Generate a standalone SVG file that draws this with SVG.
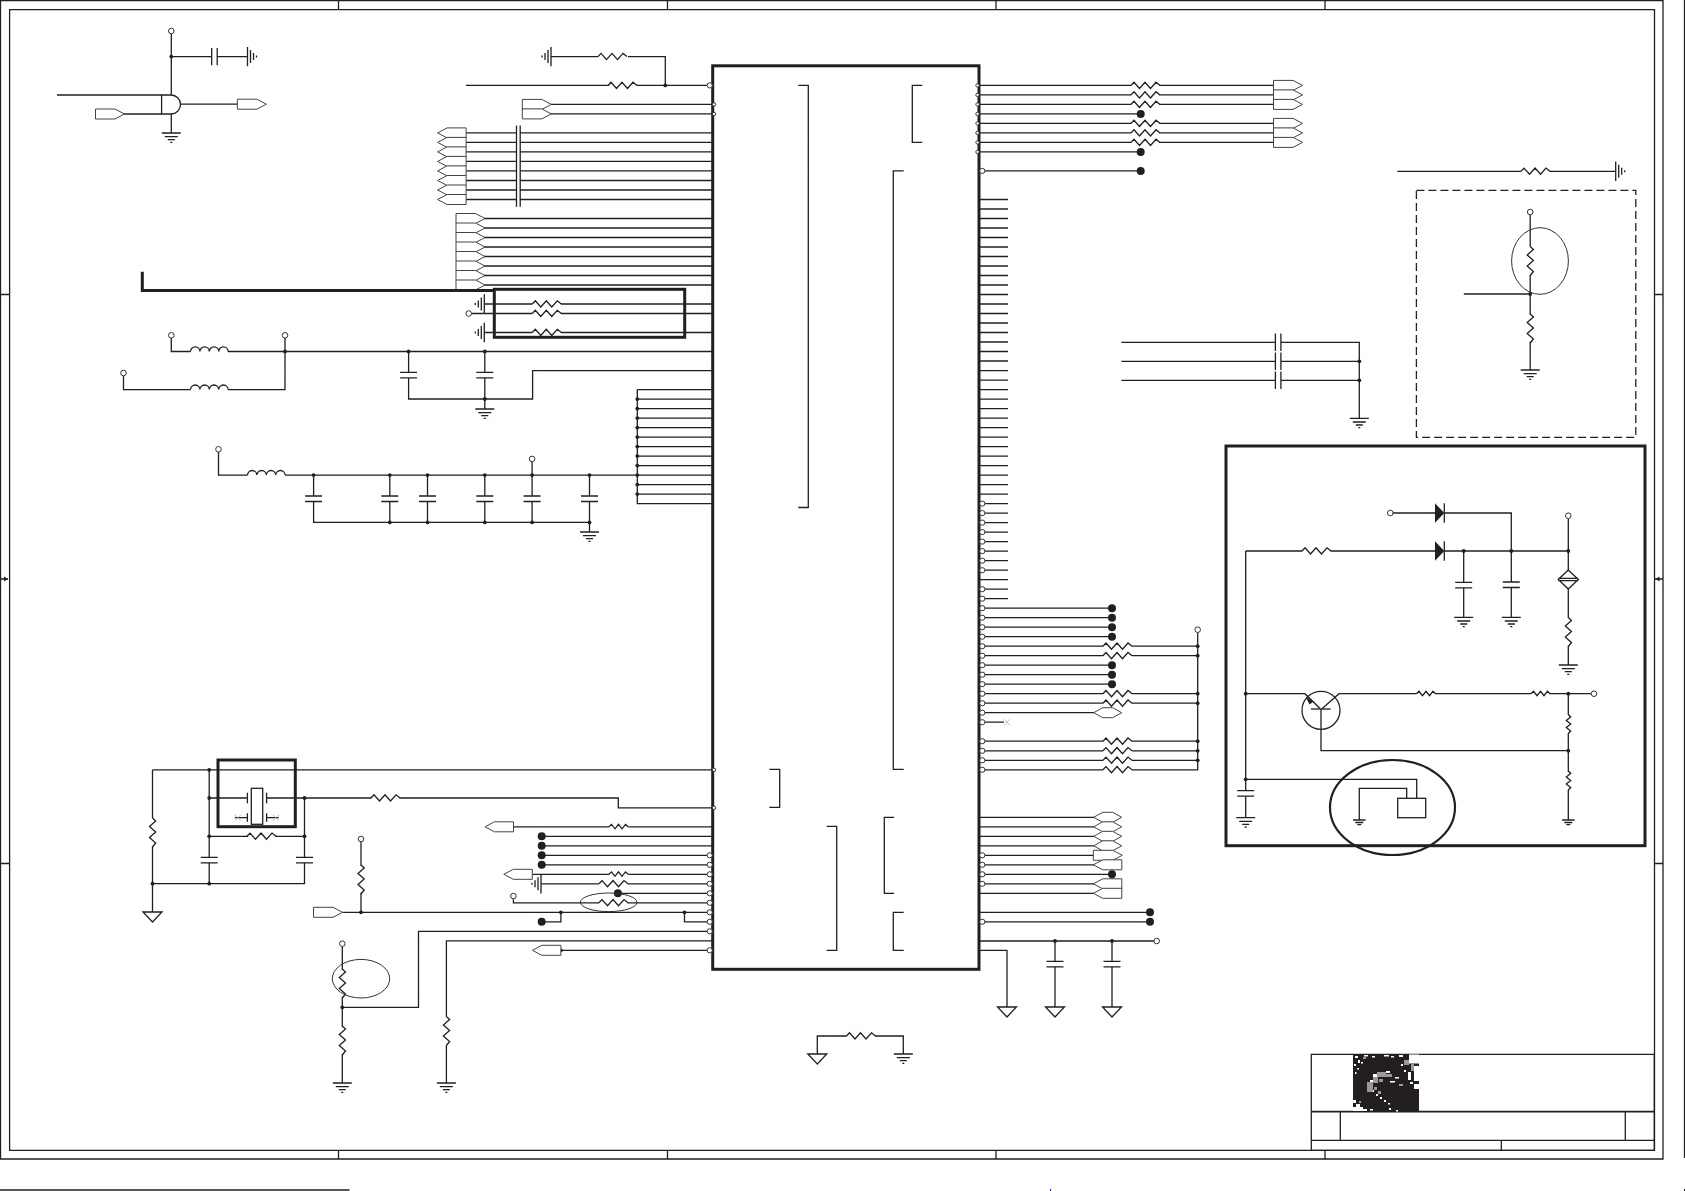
<svg xmlns="http://www.w3.org/2000/svg" width="1685" height="1191" viewBox="0 0 1685 1191">
<style>
.w{fill:none;stroke:#231f20;stroke-width:1.3}
.t{fill:none;stroke:#231f20;stroke-width:3}
.e{fill:none;stroke:#333;stroke-width:1}
.x{fill:none;stroke:#aaa;stroke-width:.8}
.f{fill:#fff;stroke:#444;stroke-width:1}
.o{fill:#fff;stroke:#333;stroke-width:1}
.k{fill:#231f20}
</style>
<defs>
<path id="r" class="w" d="M0 0L3-3.2 8.5 3 14-3.2 19.5 3 25-3.2 29 0"/>
<path id="rs" class="w" d="M0 0L2.5-2.4 6 2 9.5-2.4 13 2 16.5-2.4 19 0"/>
<path id="g" class="w" d="M-9.5 0H9.5M-6.5 3.7H6.5M-3.5 6.7H3.5M-1 9.3H1"/>
<path id="gs" class="w" d="M-6.3 0H6.3M-4 2.5H4M-2 4.7H2"/>
<path id="gr" class="w" d="M0-9.7V9.7M3-6.5V6.5M6-3.5V3.5M9-1V1"/>
<path id="gl" class="w" d="M0-9.7V9.7M-3-6.5V6.5M-6-3.5V3.5M-9-1V1"/>
<path id="tg" class="w" d="M-9.5 0H9.5L0 10Z"/>
<path id="c" class="w" d="M0 0a4.7 4.6 0 0 1 9.4 0a4.7 4.6 0 0 1 9.4 0a4.7 4.6 0 0 1 9.4 0a4.7 4.6 0 0 1 9.4 0"/>
<path id="cv" class="w" d="M-8.5 0H8.5M-8.5 5.5H8.5"/>
<path id="ch" class="w" d="M0-8.7V8.7M5.5-8.7V8.7"/>
<circle id="o" class="o" r="2.8"/>
<circle id="p" class="o" r="2.6"/>
<circle id="q" class="o" r="1.7"/>
<circle id="d" class="k" r="1.9"/>
<circle id="D" class="k" r="4"/>
<path id="fr" class="f" d="M0-5H19.5L29 0 19.5 5H0Z"/>
<path id="fl" class="f" d="M0 0L9.5-5H28.5V5H9.5Z"/>
<path id="hx" class="f" d="M0 0L9-5H19L28 0 19 5H9Z"/>
</defs>
<rect width="1685" height="1191" fill="#fff"/>
<g id="frame">
<path class="w" d="M0.5 0.5H1663V1159H0.5ZM9.6 9.6H1654.5V1150.3H9.6ZM338.5 .5V9.6M667.5 .5V9.6M996 .5V9.6M1325 .5V9.6M338.5 1150.3V1159M667.5 1150.3V1159M996 1150.3V1159M1325 1150.3V1159M.5 294.5H9.6M.5 863.5H9.6M1654.5 294.5H1663M1654.5 863.5H1663M.5 579H8M1655 579H1663M1684.5 0V1158"/>
<path class="k" d="M8 579L4 576.5V581.5ZM1655.5 579L1659.5 576.5V581.5Z"/>
<path class="w" style="stroke-width:1.5" d="M0 1190H349.5"/>
<rect x="1050" y="1189" width="1" height="2" fill="#1a1ae0"/>
<rect x="1684" y="1189" width="1" height="2" class="k"/>
</g>
<g id="title-block">
<path class="w" d="M1311.3 1054.3H1654.3V1150.3H1311.3ZM1340.3 1111.7V1140.3M1625.3 1111.7V1140.3M1311.3 1140.3H1654.3M1501.3 1140.3V1150.3"/>
<path class="w" style="stroke-width:1.7" d="M1311.3 1111.7H1654.3"/>
<g id="logo">
<rect x="1353" y="1054.5" width="66" height="57" class="k"/>
<path fill="#fff" d="M1355 1056h3v2h-3zM1358 1060h2v3h-2zM1364 1055h4v1.5h-4zM1372 1056h3v1.5h-3zM1384 1055h5v1.5h-5zM1391 1056h3v1.5h-3zM1399 1055h4v2h-4zM1354 1064h2v2h-2zM1357 1068h2v1.5h-2zM1361 1062h2v1.5h-2zM1355 1072h1.5v2h-1.5zM1409 1054.5h10v9h-10zM1414 1066h5v15h-5zM1408 1072h3v8h-3zM1414 1084h5v5h-5zM1410 1082h3v2h-3zM1401 1064h2v2h-2zM1404 1070h2v2h-2zM1373 1074h4v3h-4zM1370 1080h3v4h-3zM1386 1071h4v2h-4zM1395 1077h4v1.5h-4zM1390 1081h5v1.5h-5zM1372 1090h2v2h-2zM1376 1094h2v2h-2zM1380 1097h2v2h-2zM1384 1100h2v2h-2zM1388 1103h2v1.5h-2zM1353 1100h3v3h-3zM1356 1104h4v3h-4zM1353 1107h10v4h-10zM1362 1109h5v2h-5zM1370 1109h3v1.5h-3zM1389 1108h2v2h-2zM1396 1110h2v1.5h-2z"/>
<path fill="#999" d="M1367 1082h6v10h-6zM1373 1077h5v6h-5zM1377 1072h9v5h-9zM1386 1074h6v3h-6zM1404 1060h5v5h-5zM1411 1064h3v7h-3zM1379 1079h4v3h-4zM1399 1084h4v2h-4zM1363 1057h3v2h-3zM1359 1101h2v2h-2zM1374 1087h3v3h-3zM1378 1091h3v3h-3z"/>
</g>
</g>
<g id="U1">
<rect class="t" x="712.7" y="65.8" width="266.3" height="903.5" style="fill:#fff"/>
<path class="w" d="M798.3 85.4H808.3V507.5H798.3M922.3 85.4H912.3V142.4H922.3M903.7 170.9H893.3V769.3H903.7M769.3 769.3H779.7V807.3H769.3M826.7 826.3H836.7V950.3H826.7M894 817.3H884.3V893.3H894M903.7 912.3H893.3V950.3H903.7"/>
</g>
<g id="connectors">
<path class="w" d="M171.3 33.8V95M171.3 114V133M171.3 56.6H211.7M217.2 56.6H247.5M57 95H161.6M124 114H161.6M180.4 104.2H237.4
M551 56.6H598M628 56.6H665.3V85.4M466 85.4H609.3M636.8 85.4H707M551 104.4H713M551 113.9H713
M466 132.9H516.5M520.2 132.9H712.7M466 142.4H516.5M520.2 142.4H712.7M466 151.9H516.5M520.2 151.9H712.7M466 161.4H516.5M520.2 161.4H712.7M466 170.9H516.5M520.2 170.9H712.7M466 180.5H516.5M520.2 180.5H712.7M466 190H516.5M520.2 190H712.7M466 199.5H516.5M520.2 199.5H712.7
M516.5 125.5V206.7M520.2 125.5V206.7
M484 218.5H712.7M484 228H712.7M484 237.5H712.7M484 247H712.7M484 256.5H712.7M484 266H712.7M484 275.5H712.7M484 285H712.7
M484.3 304H532.3M561 304H712.7M471.5 313.5H532.3M561 313.5H712.7M484.3 332.5H532.3M561 332.5H712.7
M228 351.5H712.7M171.3 338V351.5H190.5M123.5 375.8V389.6H190.5M228 389.6H285V338
M408.6 351.5V372.4M408.6 378V399H532.6V370.6H712.7M484.8 351.5V372.4M484.8 378V409
M637.3 389.6V503.6H712.7M637.3 389.6H712.7M637.3 399.1H712.7M637.3 408.6H712.7M637.3 418.1H712.7M637.3 427.6H712.7M637.3 437.1H712.7M637.3 446.6H712.7M637.3 456.1H712.7M637.3 465.6H712.7M637.3 475.1H712.7M637.3 484.6H712.7M637.3 494.1H712.7
M218.5 452V475.1H247.5M285.1 475.1H637.3M532.1 461.7V475.1
M313.6 475.1V496M313.6 501.5V522.4H589.5V532M389.8 475.1V496M389.8 501.5V522.4M427.5 475.1V496M427.5 501.5V522.4M484.8 475.1V496M484.8 501.5V522.4M532.1 475.1V496M532.1 501.5V522.4M589.5 475.1V496M589.5 501.5V522.4
M152.5 769.8H712M152.5 769.8V818M152.5 846V912M209.2 769.8V857.3M209.2 862.8V883.7M152.5 883.7H304.5V862.8M304.5 857.3V798
M209.2 798H247.4M266.6 798H371.4M399.4 798H618.3V807.8H712M209.2 836.3H248.2M275 836.3H304.5
M513.4 826.8H609M628.2 826.8H712.7M541.7 836.3H712.7M541.7 845.8H712.7M541.7 855.3H708M541.7 864.8H708M532.5 874.3H609M628.2 874.3H708M541 883.8H599M627.5 883.8H708M617.9 893.3H708M513.4 899V902.8H599M627.5 902.8H708M342.7 912.3H708M560.9 912.3V921.8H541.7M684.5 912.3V921.8H708M708 931.3H418.5V1007.3H342.3M712.7 940.8H446.4V1016.7M446.4 1045.3V1083M560.9 950.3H708
M342.3 946.5V970M342.3 996.7V1027.3M342.3 1054V1083M361 841.8V866M361 892.7V912.3
M817.3 1054V1036H846.7M875 1036H903.3V1054
M980 85.4H1131.3M1159.3 85.4H1273.5M980 94.9H1131.3M1159.3 94.9H1273.5M980 104.4H1131.3M1159.3 104.4H1273.5M980 113.9H1140.7M980 123.4H1131.3M1159.3 123.4H1273.5M980 132.9H1131.3M1159.3 132.9H1273.5M980 142.4H1131.3M1159.3 142.4H1273.5M980 151.9H1140.7M985 170.9H1140.7
M980 199.5H1008M980 209H1008M980 218.5H1008M980 228H1008M980 237.5H1008M980 247H1008M980 256.5H1008M980 266H1008M980 275.5H1008M980 285H1008M980 294.5H1008M980 304H1008M980 313.5H1008M980 323H1008M980 332.5H1008M980 342H1008M980 351.5H1008M980 361H1008M980 370.6H1008M980 380.1H1008M980 389.6H1008M980 399.1H1008M980 408.6H1008M980 418.1H1008M980 427.6H1008M980 437.1H1008M980 446.6H1008M980 456.1H1008M980 465.6H1008M980 475.1H1008M980 484.6H1008M980 494.1H1008M980 503.6H1008M980 513.1H1008M980 522.6H1008M980 532.1H1008M980 541.6H1008M980 551.1H1008M980 560.7H1008M980 570.2H1008M980 579.7H1008M980 589.2H1008M980 598.7H1008
M980 608.2H1112M980 617.7H1112M980 627.2H1112M980 636.7H1112M980 646.2H1103M1132 646.2H1197.7M980 655.7H1103M1132 655.7H1197.7M980 665.2H1112M980 674.7H1112M980 684.2H1112M980 693.7H1103M1132 693.7H1197.7M980 703.2H1103M1132 703.2H1197.7M980 712.7H1094M980 722.2H1004M980 741.2H1103M1132 741.2H1197.7M980 750.8H1103M1132 750.8H1197.7M980 760.3H1103M1132 760.3H1197.7M980 769.8H1103M1132 769.8H1197.7V632.5
M980 817.3H1094M980 826.8H1094M980 836.3H1094M980 845.8H1094M980 855.3H1094M980 864.8H1094M980 874.3H1112M980 883.8H1094M980 893.3H1094M980 912.3H1150M980 921.8H1150M980 941H1154M980 950.3H1007V1007M1055 941V961.3M1055 966.8V1007M1112 941V961.3M1112 966.8V1007
M1397.4 171.3H1520.9M1549.6 171.3H1615.7M1530.2 215V246.7M1530.2 275V315M1530.2 341.7V370M1463.8 294H1530.2
M1121.3 342.3H1275.4M1281 342.3H1359.3V418.3M1121.3 361.3H1275.4M1281 361.3H1359.3M1121.3 380.3H1275.4M1281 380.3H1359.3
M1393 513H1435M1444.3 513H1511.3V551M1245.7 551H1302.3M1330.7 551H1435M1444.3 551H1568.3M1245.7 551V790.7M1245.7 796.3V817.7M1463.7 551V582.3M1463.7 587.8V617.3M1511.3 551V582M1511.3 587.5V617.3
M1568.3 518.5V570M1568.3 589V618M1568.3 646V665M1245.7 693.7H1305L1320 708.5M1321.7 709L1339 693.7H1416.7M1435 693.7H1531M1549.3 693.7H1591.2M1321 709V750.7H1568.3M1568.3 693.7V715M1568.3 733V771.7M1568.3 789.7V820
M1245.7 779.3H1416.7V798.3M1406.7 798.3V788.3H1359.3V820"/>
<use href="#d" x="171.3" y="56.6"/><use href="#d" x="665.3" y="85.4"/>
<use href="#d" x="285" y="351.5"/><use href="#d" x="408.6" y="351.5"/><use href="#d" x="484.8" y="351.5"/><use href="#d" x="484.8" y="399"/>
<use href="#d" x="637.3" y="399.1"/><use href="#d" x="637.3" y="408.6"/><use href="#d" x="637.3" y="418.1"/><use href="#d" x="637.3" y="427.6"/><use href="#d" x="637.3" y="437.1"/><use href="#d" x="637.3" y="446.6"/><use href="#d" x="637.3" y="456.1"/><use href="#d" x="637.3" y="465.6"/><use href="#d" x="637.3" y="475.1"/><use href="#d" x="637.3" y="484.6"/><use href="#d" x="637.3" y="494.1"/>
<use href="#d" x="313.6" y="475.1"/><use href="#d" x="389.8" y="475.1"/><use href="#d" x="427.5" y="475.1"/><use href="#d" x="484.8" y="475.1"/><use href="#d" x="532.1" y="475.1"/><use href="#d" x="589.5" y="475.1"/>
<use href="#d" x="389.8" y="522.4"/><use href="#d" x="427.5" y="522.4"/><use href="#d" x="484.8" y="522.4"/><use href="#d" x="532.1" y="522.4"/><use href="#d" x="589.5" y="522.4"/>
<use href="#d" x="209.2" y="769.8"/><use href="#d" x="209.2" y="798"/><use href="#d" x="209.2" y="836.3"/><use href="#d" x="209.2" y="883.7"/><use href="#d" x="152.5" y="883.7"/><use href="#d" x="304.5" y="798"/><use href="#d" x="304.5" y="836.3"/>
<use href="#d" x="361" y="912.3"/><use href="#d" x="560.9" y="912.3"/><use href="#d" x="684.5" y="912.3"/><use href="#d" x="560.9" y="950.3"/><use href="#d" x="342.3" y="1007.3"/>
<use href="#d" x="1197.7" y="646.2"/><use href="#d" x="1197.7" y="655.7"/><use href="#d" x="1197.7" y="693.7"/><use href="#d" x="1197.7" y="703.2"/><use href="#d" x="1197.7" y="741.2"/><use href="#d" x="1197.7" y="750.8"/><use href="#d" x="1197.7" y="760.3"/>
<use href="#d" x="1055" y="941"/><use href="#d" x="1112" y="941"/>
<use href="#d" x="1530.2" y="294"/><use href="#d" x="1359.3" y="361.3"/><use href="#d" x="1359.3" y="380.3"/>
<use href="#d" x="1463.7" y="551"/><use href="#d" x="1511.3" y="551"/><use href="#d" x="1568.3" y="551"/><use href="#d" x="1245.7" y="693.7"/><use href="#d" x="1245.7" y="779.3"/><use href="#d" x="1568.3" y="693.7"/><use href="#d" x="1568.3" y="750.7"/>
</g>
<g id="pins">
<use href="#p" x="709.7" y="85.4"/><use href="#q" x="714" y="104.4"/><use href="#q" x="714" y="113.9"/><use href="#q" x="714" y="769.8"/><use href="#q" x="714" y="807.8"/>
<use href="#p" x="709.7" y="855.3"/><use href="#p" x="709.7" y="864.8"/><use href="#p" x="709.7" y="874.3"/><use href="#p" x="709.7" y="883.8"/><use href="#p" x="709.7" y="893.3"/><use href="#p" x="709.7" y="902.8"/><use href="#p" x="709.7" y="912.3"/><use href="#p" x="709.7" y="921.8"/><use href="#p" x="709.7" y="931.3"/><use href="#p" x="709.7" y="950.3"/>
<use href="#q" x="977.5" y="85.4"/><use href="#q" x="977.5" y="94.9"/><use href="#q" x="977.5" y="104.4"/><use href="#q" x="977.5" y="113.9"/><use href="#q" x="977.5" y="123.4"/><use href="#q" x="977.5" y="132.9"/><use href="#q" x="977.5" y="142.4"/><use href="#q" x="977.5" y="151.9"/>
<use href="#p" x="982.3" y="170.9"/>
<use href="#p" x="982.3" y="503.6"/><use href="#p" x="982.3" y="513.1"/><use href="#p" x="982.3" y="522.6"/><use href="#p" x="982.3" y="532.1"/><use href="#p" x="982.3" y="541.6"/><use href="#p" x="982.3" y="551.1"/><use href="#p" x="982.3" y="560.7"/><use href="#p" x="982.3" y="570.2"/><use href="#p" x="982.3" y="589.2"/><use href="#p" x="982.3" y="598.7"/>
<use href="#p" x="982.3" y="608.2"/><use href="#p" x="982.3" y="617.7"/><use href="#p" x="982.3" y="627.2"/><use href="#p" x="982.3" y="636.7"/><use href="#p" x="982.3" y="646.2"/><use href="#p" x="982.3" y="655.7"/><use href="#p" x="982.3" y="665.2"/><use href="#p" x="982.3" y="674.7"/><use href="#p" x="982.3" y="684.2"/><use href="#p" x="982.3" y="693.7"/><use href="#p" x="982.3" y="703.2"/><use href="#p" x="982.3" y="712.7"/><use href="#p" x="982.3" y="722.2"/><use href="#p" x="982.3" y="741.2"/><use href="#p" x="982.3" y="750.8"/><use href="#p" x="982.3" y="760.3"/><use href="#p" x="982.3" y="769.8"/>
<use href="#p" x="982.3" y="855.3"/><use href="#p" x="982.3" y="864.8"/><use href="#p" x="982.3" y="874.3"/><use href="#p" x="982.3" y="883.8"/><use href="#p" x="982.3" y="921.8"/>
</g>
<g id="terminals">
<use href="#o" x="171.3" y="31"/><use href="#o" x="285" y="335.3"/><use href="#o" x="171.3" y="335.3"/><use href="#o" x="123.5" y="373"/><use href="#o" x="218.5" y="449.3"/><use href="#o" x="532.1" y="458.9"/><use href="#o" x="468.7" y="313.5"/>
<use href="#o" x="361" y="839"/><use href="#o" x="342.3" y="943.7"/><use href="#o" x="513.4" y="896"/>
<use href="#o" x="1197.7" y="629.7"/><use href="#o" x="1156.7" y="941"/><use href="#o" x="1530.2" y="212"/><use href="#o" x="1390.3" y="513"/><use href="#o" x="1568.3" y="515.7"/><use href="#o" x="1594" y="693.7"/>
</g>
<g id="resistors">
<use href="#r" x="598" y="56.6"/><use href="#r" x="608" y="85.4"/><use href="#r" x="532.3" y="304"/><use href="#r" x="532.3" y="313.5"/><use href="#r" x="532.3" y="332.5"/>
<use href="#r" x="371" y="798"/><use href="#r" x="247" y="836.3"/><use href="#r" x="599" y="883.8"/><use href="#r" x="599" y="902.8"/><use href="#rs" x="609" y="826.8"/><use href="#rs" x="609" y="874.3"/>
<use href="#r" transform="translate(152.5 818) rotate(90)"/><use href="#r" transform="translate(361 865) rotate(90)"/><use href="#r" transform="translate(342.3 969) rotate(90)"/><use href="#r" transform="translate(342.3 1026) rotate(90)"/><use href="#r" transform="translate(446.4 1016.5) rotate(90)"/>
<use href="#r" x="846.5" y="1036"/>
<use href="#r" x="1131" y="85.4"/><use href="#r" x="1131" y="94.9"/><use href="#r" x="1131" y="104.4"/><use href="#r" x="1131" y="123.4"/><use href="#r" x="1131" y="132.9"/><use href="#r" x="1131" y="142.4"/>
<use href="#r" x="1103" y="646.2"/><use href="#r" x="1103" y="655.7"/><use href="#r" x="1103" y="693.7"/><use href="#r" x="1103" y="703.2"/><use href="#r" x="1103" y="741.2"/><use href="#r" x="1103" y="750.8"/><use href="#r" x="1103" y="760.3"/><use href="#r" x="1103" y="769.8"/>
<use href="#r" x="1521" y="171.3"/><use href="#r" transform="translate(1530.2 246.5) rotate(90)"/><use href="#r" transform="translate(1530.2 314) rotate(90)"/>
<use href="#r" x="1302" y="551"/><use href="#r" transform="translate(1568.3 617.5) rotate(90)"/><use href="#rs" x="1416.5" y="693.7"/><use href="#rs" x="1531" y="693.7"/><use href="#rs" transform="translate(1568.3 714.5) rotate(90)"/><use href="#rs" transform="translate(1568.3 771) rotate(90)"/>
</g>
<g id="inductors">
<use href="#c" x="190.5" y="351.5"/><use href="#c" x="190.5" y="389.6"/><use href="#c" x="247.5" y="475.1"/>
</g>
<g id="capacitors">
<use href="#ch" x="211.7" y="56.6"/><use href="#cv" x="408.6" y="372.4"/><use href="#cv" x="484.8" y="372.4"/>
<use href="#cv" x="313.6" y="496"/><use href="#cv" x="389.8" y="496"/><use href="#cv" x="427.5" y="496"/><use href="#cv" x="484.8" y="496"/><use href="#cv" x="532.1" y="496"/><use href="#cv" x="589.5" y="496"/>
<use href="#cv" x="209.2" y="857.3"/><use href="#cv" x="304.5" y="857.3"/><use href="#cv" x="1055" y="961.3"/><use href="#cv" x="1112" y="961.3"/>
<use href="#ch" x="1275.4" y="342.3"/><use href="#ch" x="1275.4" y="361.3"/><use href="#ch" x="1275.4" y="380.3"/>
<use href="#cv" x="1463.7" y="582.3"/><use href="#cv" x="1511.3" y="582"/><use href="#cv" x="1245.7" y="790.7"/>
</g>
<g id="grounds">
<use href="#g" x="171.3" y="133"/><use href="#g" x="484.8" y="409"/><use href="#g" x="589.5" y="532"/><use href="#g" x="342.3" y="1083"/><use href="#g" x="446.4" y="1083"/><use href="#g" x="903.3" y="1054"/><use href="#g" x="1359.3" y="418.3"/><use href="#g" x="1530.2" y="370"/>
<use href="#g" x="1463.7" y="617.3"/><use href="#g" x="1511.3" y="617.3"/><use href="#g" x="1568.3" y="665"/><use href="#g" x="1245.7" y="817.7"/><use href="#gs" x="1359.3" y="820"/><use href="#gs" x="1568.3" y="820"/>
<use href="#gr" x="247.5" y="56.6"/><use href="#gl" x="551" y="56.6"/><use href="#gl" x="484.3" y="304"/><use href="#gl" x="484.3" y="332.5"/><use href="#gl" x="541" y="883.8"/><use href="#gr" x="1615.7" y="171.3"/>
<use href="#tg" x="152.5" y="912"/><use href="#tg" x="817.3" y="1054"/><use href="#tg" x="1007" y="1007"/><use href="#tg" x="1055" y="1007"/><use href="#tg" x="1112" y="1007"/>
</g>
<g id="flags">
<use href="#fr" x="95.5" y="114"/><use href="#fr" x="237.4" y="104.2"/><use href="#fr" x="522.3" y="104.4"/><use href="#fr" x="522.3" y="113.9"/>
<use href="#fl" x="437.6" y="132.9"/><use href="#fl" x="437.6" y="142.4"/><use href="#fl" x="437.6" y="151.9"/><use href="#fl" x="437.6" y="161.4"/><use href="#fl" x="437.6" y="170.9"/><use href="#fl" x="437.6" y="180.5"/><use href="#fl" x="437.6" y="190"/><use href="#fl" x="437.6" y="199.5"/>
<use href="#fr" x="456" y="218.5"/><use href="#fr" x="456" y="228"/><use href="#fr" x="456" y="237.5"/><use href="#fr" x="456" y="247"/><use href="#fr" x="456" y="256.5"/><use href="#fr" x="456" y="266"/><use href="#fr" x="456" y="275.5"/><use href="#fr" x="456" y="285"/>
<use href="#fl" x="485" y="826.8"/><use href="#fl" x="503.8" y="874.3"/><use href="#fr" x="313.5" y="912.3"/><use href="#fl" x="532.4" y="950.3"/>
<use href="#fr" x="1273.5" y="85.4"/><use href="#fr" x="1273.5" y="94.9"/><use href="#fr" x="1273.5" y="104.4"/><use href="#fr" x="1273.5" y="123.4"/><use href="#fr" x="1273.5" y="132.9"/><use href="#fr" x="1273.5" y="142.4"/>
<use href="#hx" x="1093.7" y="712.7"/><use href="#hx" x="1093.7" y="817.3"/><use href="#hx" x="1093.7" y="826.8"/><use href="#hx" x="1093.7" y="836.3"/><use href="#hx" x="1093.7" y="845.8"/><use href="#fr" x="1093.3" y="855.3"/><use href="#fl" x="1093.3" y="864.8"/><use href="#fl" x="1093.3" y="883.8"/><use href="#fl" x="1093.3" y="893.3"/>
</g>
<g id="nc-points">
<use href="#D" x="541.7" y="836.3"/><use href="#D" x="541.7" y="845.8"/><use href="#D" x="541.7" y="855.3"/><use href="#D" x="541.7" y="864.8"/><use href="#D" x="617.9" y="893.3"/><use href="#D" x="541.7" y="921.8"/>
<use href="#D" x="1140.7" y="113.9"/><use href="#D" x="1140.7" y="151.9"/><use href="#D" x="1140.7" y="170.9"/>
<use href="#D" x="1112" y="608.2"/><use href="#D" x="1112" y="617.7"/><use href="#D" x="1112" y="627.2"/><use href="#D" x="1112" y="636.7"/><use href="#D" x="1112" y="665.2"/><use href="#D" x="1112" y="674.7"/><use href="#D" x="1112" y="684.2"/><use href="#D" x="1112" y="874.3"/><use href="#D" x="1150" y="912.3"/><use href="#D" x="1150" y="921.8"/>
<path class="x" d="M1004 719.2l6 6m0-6l-6 6"/>
</g>
<g id="U2"><path class="w" d="M161.6 95H171A9.5 9.5 0 0 1 171 114H161.6Z" style="fill:#fff"/></g>
<g id="Y1">
<rect class="w" x="251.3" y="788.3" width="11.4" height="36"/>
<path class="w" d="M247.4 792.7V803.3M266.6 792.7V803.3M247.4 813.3V821.7M266.6 813.3V821.7M234.8 817.7H247.4M266.6 817.7H278.8"/>
<path class="x" d="M234.9 814.7l6 6m0-6l-6 6M272.8 814.7l6 6m0-6l-6 6"/>
</g>
<g id="Q1">
<circle class="w" cx="1321" cy="710.3" r="19"/>
<path class="w" d="M1311 709H1330.7"/>
<path class="k" d="M1305.5 696.5L1313.5 701.5 1309.5 704.5Z"/>
</g>
<g id="D1">
<path class="k" d="M1435 503.3L1444.3 513 1435 522.7ZM1435 541.3L1444.3 551 1435 560.7Z"/>
<path class="w" d="M1444.3 503.3V522.7M1444.3 541.3V560.7"/>
</g>
<g id="Z1">
<path class="w" d="M1568.3 570L1578.3 579.5 1568.3 589 1558.3 579.5ZM1558.3 578.3H1578.3M1558.3 580.7H1578.3"/>
</g>
<g id="SW1">
<rect class="w" x="1397.7" y="798.3" width="28" height="19.4"/>
</g>
<g id="highlights">
<path class="t" d="M142.3 271.7V290.5H494.3"/>
<rect class="t" x="494.3" y="289.3" width="190.4" height="48"/>
<rect class="t" x="218" y="760" width="77.3" height="66.7"/>
<rect class="t" x="1226" y="446" width="419" height="399.7"/>
<ellipse class="w" style="stroke-width:2.2" cx="1392.5" cy="807.5" rx="62.5" ry="47.5"/>
<ellipse class="e" cx="361" cy="978.7" rx="28.7" ry="19.3"/>
<ellipse class="e" cx="608.7" cy="902.3" rx="28.3" ry="9.3"/>
<ellipse class="e" cx="1540" cy="261" rx="28.4" ry="33.3"/>
<rect class="w" stroke-dasharray="8 4" x="1416.4" y="190.3" width="219.4" height="247"/>
</g>
</svg>
